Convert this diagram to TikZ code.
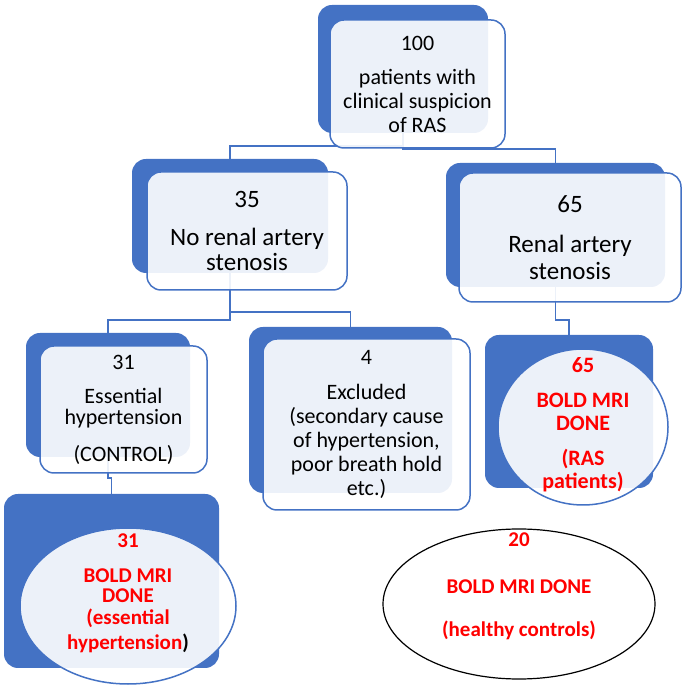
\documentclass[tikz,border=0pt]{standalone}
\usepackage{fontspec}
\setmainfont{Carlito}
\usepackage{xcolor}
\usepackage{tikz}
\usetikzlibrary{shapes.geometric,backgrounds}
\definecolor{rasblue}{HTML}{4472C4}
\definecolor{rasred}{HTML}{FF0000}
\setlength{\lineskiplimit}{-50pt}
\newcommand{\ovaltext}[2]{\makebox[0pt]{\raisebox{#1}[0pt][0pt]{\parbox[c]{220pt}{\centering #2}}}}

\begin{document}
\begin{tikzpicture}[x=1pt,y=1pt,
	back/.style={rectangle,rounded corners=14pt,fill=rasblue,inner sep=0pt},
	card/.style={rectangle,rounded corners=14pt,draw=rasblue,line width=1.5pt,fill=white,fill opacity=0.9,text opacity=1,align=center,inner sep=0pt},
	oval/.style={ellipse,draw=rasblue,line width=1.5pt,fill=white,fill opacity=0.9,text opacity=1,inner sep=0pt,text=rasred,font=\bfseries},
	link/.style={rasblue,line width=1.6pt}]
	\useasboundingbox (0,0) rectangle (685,685);
	
	\node[back,minimum width=170pt,minimum height=128pt] (b100) at (403,616) {};
	\node[back,minimum width=196pt,minimum height=114pt] (b35) at (230,469) {};
	\node[back,minimum width=219pt,minimum height=124pt] (b65) at (555.5,460) {};
	\node[back,minimum width=164pt,minimum height=124pt] (b31) at (108,290) {};
	\node[back,minimum width=203pt,minimum height=166pt] (b4) at (350.5,275) {};
	\node[back,minimum width=215pt,minimum height=174pt] (d31) at (111.5,104) {};
	\node[back,minimum width=168pt,minimum height=153pt] (d65) at (569,273.5) {};
	
	\node[card,minimum width=175pt,minimum height=128pt,font=\fontsize{22}{24}\selectfont] (n100) at (417.5,601) {100\\[10pt]patients with\\clinical suspicion\\of RAS};
	\node[card,minimum width=200pt,minimum height=118pt,font=\fontsize{25}{25}\selectfont] (n35) at (247,454) {35\\[13pt]No renal artery\\stenosis};
	\node[card,minimum width=222pt,minimum height=129pt,font=\fontsize{25}{27}\selectfont] (n65) at (570,447.5) {65\\[13pt]Renal artery\\stenosis};
	\node[card,minimum width=167pt,minimum height=127pt,font=\fontsize{22}{21}\selectfont] (n31) at (123.5,275.5) {31\\[13pt]Essential\\hypertension\\[16pt](CONTROL)};
	\node[card,minimum width=207pt,minimum height=171pt,font=\fontsize{22}{24}\selectfont] (n4) at (366.5,260.5) {4\\[11pt]Excluded\\(secondary cause\\of hypertension,\\poor breath hold\\etc.)};
	
	\node[oval,minimum width=216pt,minimum height=156pt] (e31) at (128,79) {\ovaltext{10pt}{\fontsize{21}{22}\selectfont 31\\[13pt]BOLD MRI\\[-2pt]DONE\\[0pt](essential\\[3pt]hypertension{\color{black})}}};
	\node[oval,minimum width=170pt,minimum height=156pt] (e65) at (583,258) {\ovaltext{0pt}{\fontsize{22}{23}\selectfont 65\\[12pt]BOLD MRI\\DONE\\[12pt](RAS\\patients)}};
	\node[oval,draw=black,line width=1.2pt,minimum width=272pt,minimum height=150pt] (e20) at (519,81) {\ovaltext{15pt}{\fontsize{21}{22}\selectfont 20\\[25pt]BOLD MRI DONE\\[21pt](healthy controls)}};
	
	\begin{scope}[on background layer]
		\draw[link] (b100.center) -- ++(0,-77) -| (b35.north);
		\draw[link] (b100.center) -- ++(0,-80) -| (b65.north);
		\draw[link] (b35.center) -- ++(0,-104) -| (b31.north);
		\draw[link] (b35.center) -- ++(0,-96) -| (b4.north);
		\draw[link] (b65.center) -- ++(0,-95) -| (d65.north);
		\draw[link] (b31.center) -- ++(0,-83) -| (d31.north);
	\end{scope}
\end{tikzpicture}
\end{document}
